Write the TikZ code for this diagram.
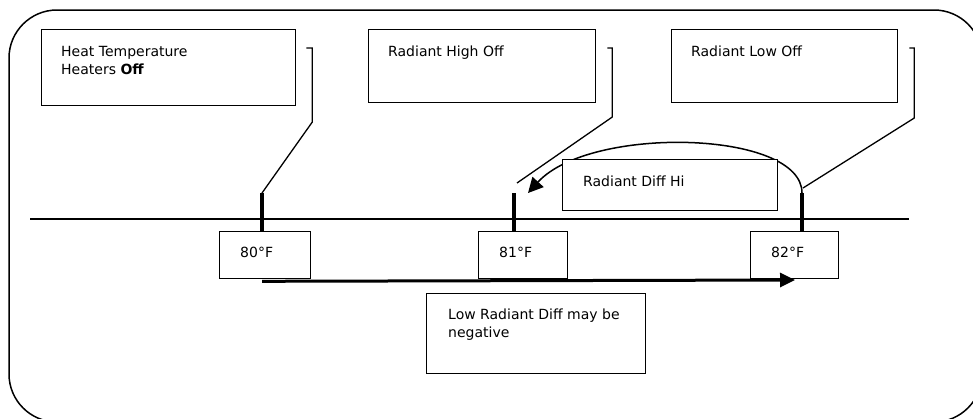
\documentclass[tikz,border=0pt]{standalone}
\usepackage{fontspec}
\setmainfont{DejaVu Sans}
\usetikzlibrary{calc}
\usetikzlibrary{arrows.meta}
\tikzstyle{frame}=[line width=1.5pt, rounded corners=48pt]
\tikzstyle{infobox}=[draw, fill=white, line width=1.3pt, anchor=north west, inner sep=0pt]
\tikzstyle{boxtext}=[anchor=north west, align=left, inner sep=0pt, xshift=20pt, yshift=-17pt]
\tikzstyle{tempmark}=[line width=4pt]
\tikzstyle{leader}=[line width=1.3pt]
\tikzstyle{diffarrow}=[line width=1.5pt, -{Triangle[length=15pt,width=15pt]}]
\tikzstyle{lowarrow}=[line width=3pt, -{Triangle[length=15pt,width=14pt]}]

\begin{document}
\begin{tikzpicture}[x=1pt, y=-1pt, font=\fontsize{14}{18}\selectfont]
\useasboundingbox (0,0) rectangle (973,418);
% outer frame
\draw[frame] (9,10) rectangle (982,422);
% temperature scale
\coordinate (axisL) at (30,219);
\coordinate (axisR) at (909,219);
\draw[line width=1.3pt] (axisL) -- (axisR);
\coordinate (k80) at (262,193);
\coordinate (k81) at (514,193);
\coordinate (k82) at (802,193);
% set point boxes
\node[infobox, minimum width=91, minimum height=47, label={[boxtext, xshift=1pt, yshift=1pt]north west:80°F}] (t80) at (219,231) {};
\node[infobox, minimum width=89, minimum height=47, label={[boxtext, xshift=1pt, yshift=1pt]north west:81°F}] (t81) at (478,231) {};
\node[infobox, minimum width=88, minimum height=47, label={[boxtext, xshift=1pt, yshift=1pt]north west:82°F}] (t82) at (750,231) {};
\draw[tempmark] (k80) -- (k80 |- t80.north);
\draw[tempmark] (k81) -- (k81 |- t81.north);
\draw[tempmark] (k82) -- (k82 |- t82.north);
% top boxes and their leaders
\node[infobox, minimum width=254, minimum height=76, label={[boxtext]north west:Heat Temperature\\Heaters \textbf{Off}}] (heatoff) at (41,29) {};
\node[infobox, minimum width=227, minimum height=73, label={[boxtext]north west:Radiant High Off}] (highoff) at (368,29) {};
\node[infobox, minimum width=226, minimum height=73, label={[boxtext]north west:Radiant Low Off}] (lowoff) at (671,29) {};
\coordinate (h81) at ($(k81)+(3,-10)$);
\coordinate (h82) at ($(k82)+(1,-5)$);
\draw[leader] ($(heatoff.north east)+(10,19)$) -- ++(6,0) -- ++(0,74) -- (k80);
\draw[leader] ($(highoff.north east)+(11,19)$) -- ++(5,0) -- ++(0,69) -- (h81);
\draw[leader] ($(lowoff.north east)+(11,19)$) -- ++(5,0) -- ++(0,70) -- (h82);
% high diff
\coordinate (hitip) at (528,193);
\draw[diffarrow] (k82) .. controls ($(k82)+(0,-63)$) and (590,125) .. (hitip);
\node[infobox, minimum width=215, minimum height=51, label={[boxtext, xshift=1pt]north west:Radiant Diff Hi}] (diffhi) at (562,159) {};
% low diff
\coordinate (lotip) at (795,280);
\draw[lowarrow] ($(k80 |- t80.south)+(0,2)$) -- (lotip);
\node[infobox, minimum width=219, minimum height=80, label={[boxtext, xshift=2pt, yshift=1pt]north west:Low Radiant Diff may be\\negative}] (difflo) at (426,293) {};
\end{tikzpicture}
\end{document}
